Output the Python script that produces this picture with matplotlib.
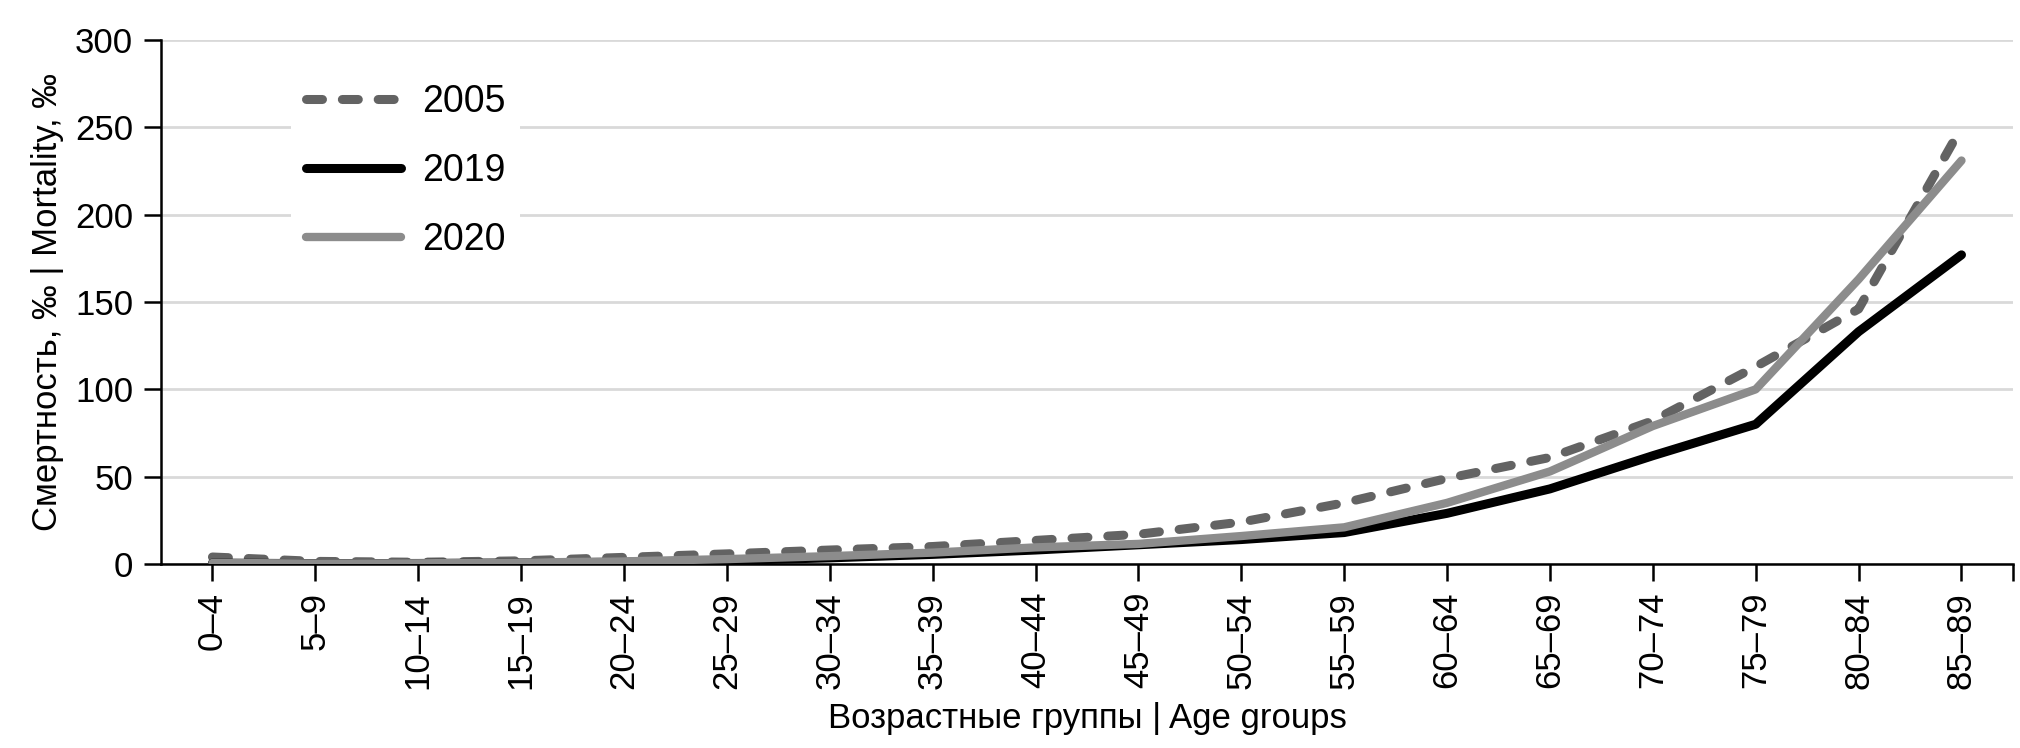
import matplotlib
matplotlib.use('Agg')
import matplotlib.pyplot as plt
import numpy as np

plt.rcParams['font.family'] = ['Liberation Sans Narrow', 'Liberation Sans', 'DejaVu Sans']

age_groups = ['0–4', '5–9', '10–14', '15–19', '20–24', '25–29', '30–34', '35–39', '40–44',
              '45–49', '50–54', '55–59', '60–64', '65–69', '70–74', '75–79', '80–84', '85–89']
mort_2005 = [4, 1.5, 1, 1.8, 3.8, 5.8, 8, 10, 13.5, 17, 24, 35, 49, 61, 82, 113, 146, 250]
mort_2019 = [0.5, 0.2, 0.3, 0.6, 1, 2, 3.5, 5.5, 8, 11, 14, 18, 29, 43, 62, 80, 133, 177]
mort_2020 = [0.6, 0.3, 0.4, 0.8, 1.5, 2.8, 4.5, 6.5, 9.5, 11.5, 16, 21, 35, 53, 79, 100, 163, 231]

fig = plt.figure(figsize=(20.2, 7.48), dpi=100)
ax = fig.add_axes([0.0797, 0.246, 0.9168, 0.7005])

x = np.arange(len(age_groups))
ax.plot(x, mort_2005, color='#636363', lw=6.5, ls=(0, (1.77, 2.2)),
        dash_capstyle='round', label='2005', zorder=3)
ax.plot(x, mort_2019, color='#000000', lw=6.5, solid_capstyle='round', label='2019', zorder=3)
ax.plot(x, mort_2020, color='#8c8c8c', lw=6, solid_capstyle='round', label='2020', zorder=4)

ax.set_xlim(-0.5, len(age_groups) - 0.5)
ax.set_ylim(0, 300)
ax.set_yticks(np.arange(0, 301, 50))
ax.set_xticks(x)
ax.set_xticklabels(age_groups, rotation=90)
ax.set_xticks([len(age_groups) - 0.5], minor=True)

ax.grid(axis='y', color='#d9d9d9', lw=2)
ax.set_axisbelow(True)
for s in ['top', 'right']:
    ax.spines[s].set_visible(False)
for s in ['left', 'bottom']:
    ax.spines[s].set_linewidth(1.8)
ax.tick_params(axis='both', which='both', labelsize=25, width=1.8, length=12, direction='out', pad=8)

ax.set_xlabel('Возрастные группы | Age groups', fontsize=25, labelpad=10)
ax.set_ylabel('Смертность, ‰ | Mortality, ‰', fontsize=25, labelpad=8)

leg = ax.legend(loc='upper left', bbox_to_anchor=(0.07, 0.944), fontsize=27,
                handlelength=2.55, handletextpad=0.55, labelspacing=0.88,
                frameon=True, framealpha=1, edgecolor='none', fancybox=False,
                borderpad=0.4, borderaxespad=0)

fig.savefig('out.png', dpi=100)
